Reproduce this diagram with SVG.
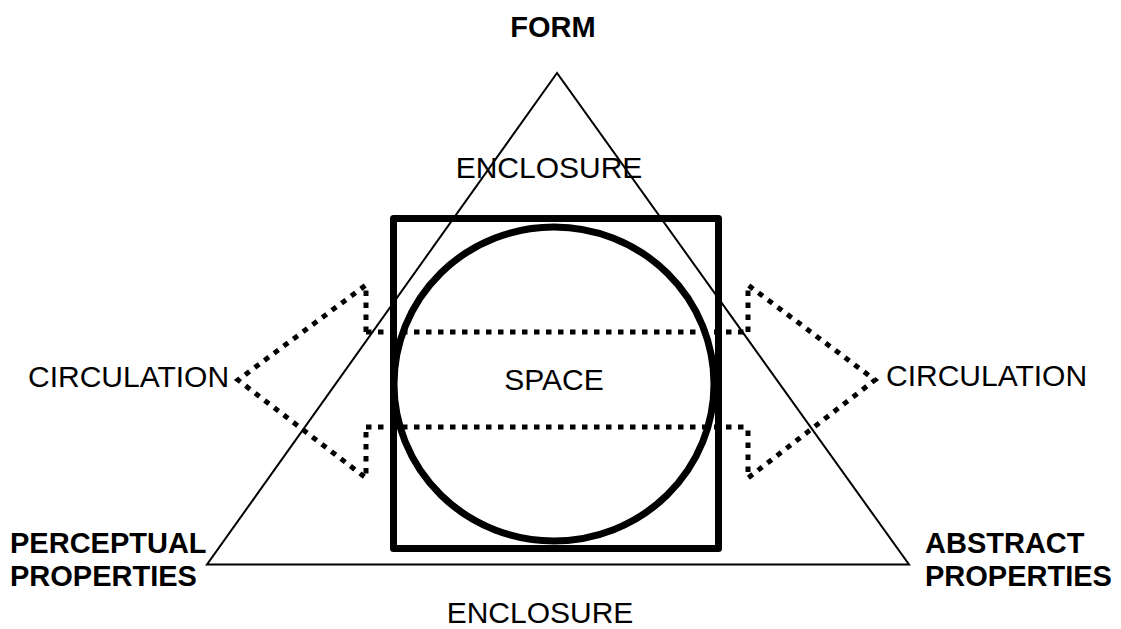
<svg xmlns="http://www.w3.org/2000/svg" width="1121" height="629" viewBox="0 0 1121 629">
<style>
.t{font-family:"Liberation Sans",Arial,sans-serif;font-size:30px;fill:#000}
.b{font-family:"Liberation Sans",Arial,sans-serif;font-size:29px;font-weight:bold;fill:#000}
.dot{fill:none;stroke:#000;stroke-width:5;stroke-dasharray:5.5 6.5}
.thick{fill:none;stroke:#000;stroke-width:7;stroke-linejoin:round}
</style>
<rect width="1121" height="629" fill="#fff"/>
<g id="triangle">
<polygon points="557,73 207,564.5 909,564.5" fill="none" stroke="#000" stroke-width="2"/>
</g>
<g id="square">
<rect class="thick" x="393.5" y="218.5" width="325" height="330"/>
</g>
<g id="circle">
<ellipse class="thick" cx="554" cy="384" rx="160" ry="157"/>
</g>
<g id="connectors">
<polyline class="dot" points="366,332 366,285 238,380 366,478 366,427"/>
<polyline class="dot" points="748,332 748,285 875,380 748,478 748,427"/>
<line class="dot" x1="366" y1="332" x2="748" y2="332"/>
<line class="dot" x1="366" y1="427" x2="748" y2="427"/>
</g>
<g id="labels">
<text class="b" x="553" y="37" text-anchor="middle">FORM</text>
<text class="t" x="549" y="178" text-anchor="middle">ENCLOSURE</text>
<text class="t" x="554" y="390" text-anchor="middle">SPACE</text>
<text class="t" x="540" y="623" text-anchor="middle">ENCLOSURE</text>
<text class="t" x="28" y="387">CIRCULATION</text>
<text class="t" x="886" y="386">CIRCULATION</text>
<text class="b" x="10" y="553">PERCEPTUAL</text>
<text class="b" x="10" y="586">PROPERTIES</text>
<text class="b" x="925" y="553">ABSTRACT</text>
<text class="b" x="925" y="586">PROPERTIES</text>
</g>
</svg>
